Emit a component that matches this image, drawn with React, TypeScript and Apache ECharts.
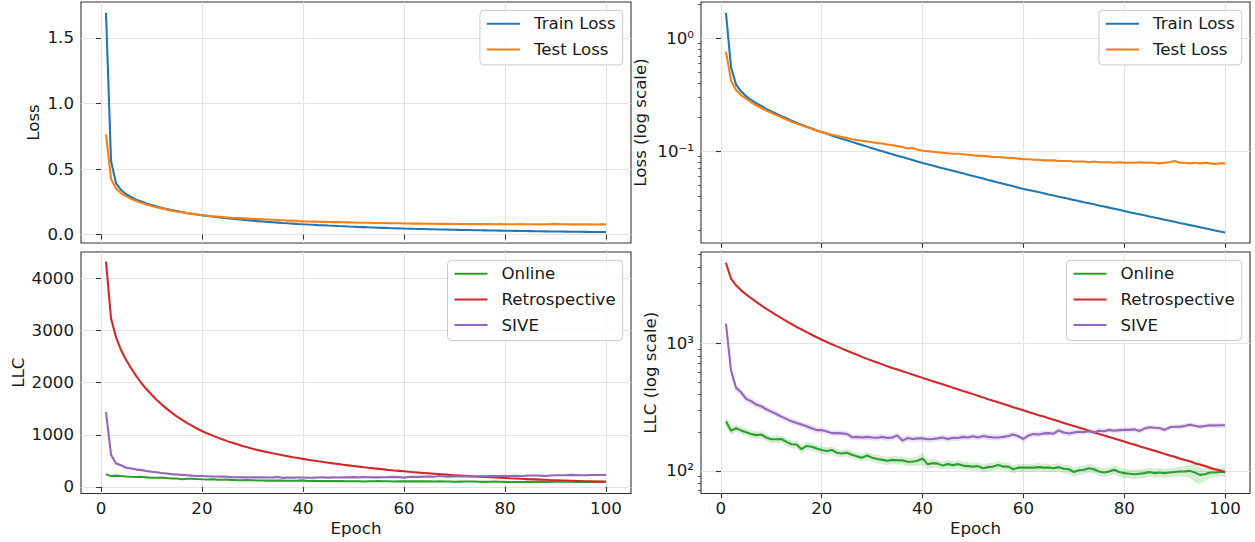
import React, { useEffect, useRef } from 'react';
import * as echarts from 'echarts';

// ---------- data ----------
const epochs: number[] = Array.from({ length: 100 }, (_, i) => i + 1);

const trainLoss = [
  1.69, 0.56, 0.39, 0.340, 0.308, 0.285, 0.267, 0.252, 0.238, 0.226,
  0.215, 0.205, 0.196, 0.187, 0.179, 0.172, 0.165, 0.159, 0.153, 0.148,
  0.1429, 0.1380, 0.1334, 0.1291, 0.1250, 0.1211, 0.1172, 0.1135, 0.1099, 0.1064,
  0.1030, 0.1000, 0.0970, 0.0942, 0.0914, 0.0887, 0.0861, 0.0836, 0.0811, 0.0787,
  0.0766, 0.0746, 0.0726, 0.0708, 0.0689, 0.0671, 0.0653, 0.0637, 0.0619, 0.0604,
  0.0587, 0.0573, 0.0557, 0.0543, 0.0528, 0.0515, 0.0501, 0.0489, 0.0475, 0.0463,
  0.0453, 0.0443, 0.0434, 0.0424, 0.0414, 0.0405, 0.0395, 0.0387, 0.0378, 0.0370,
  0.0361, 0.0353, 0.0346, 0.0338, 0.0330, 0.0323, 0.0316, 0.0309, 0.0302, 0.0295,
  0.0288, 0.0282, 0.0276, 0.0270, 0.0264, 0.0258, 0.0253, 0.0247, 0.0242, 0.0237,
  0.0231, 0.0226, 0.0221, 0.0217, 0.0212, 0.0207, 0.0203, 0.0198, 0.0194, 0.0190,
];

const testLoss = [
  0.765, 0.425, 0.350, 0.315, 0.293, 0.272, 0.256, 0.242, 0.230, 0.219,
  0.209, 0.200, 0.191, 0.183, 0.176, 0.170, 0.164, 0.158, 0.153, 0.148,
  0.144, 0.140, 0.137, 0.134, 0.131, 0.128, 0.126, 0.124, 0.122, 0.120,
  0.118, 0.117, 0.115, 0.113, 0.111, 0.109, 0.106, 0.107, 0.103, 0.101,
  0.100, 0.099, 0.098, 0.097, 0.096, 0.095, 0.095, 0.094, 0.093, 0.092,
  0.091, 0.091, 0.090, 0.089, 0.089, 0.088, 0.087, 0.087, 0.086, 0.085,
  0.085, 0.084, 0.084, 0.083, 0.083, 0.083, 0.082, 0.082, 0.082, 0.081,
  0.081, 0.081, 0.080, 0.081, 0.080, 0.080, 0.080, 0.079, 0.080, 0.079,
  0.079, 0.079, 0.080, 0.079, 0.079, 0.079, 0.078, 0.079, 0.080, 0.082,
  0.079, 0.079, 0.078, 0.079, 0.078, 0.079, 0.078, 0.077, 0.078, 0.078,
];

const online = [
  245, 207, 216, 208, 201, 195, 191, 193, 183, 177,
  177, 178, 169, 162, 161, 148, 157, 155, 150, 146,
  143, 146, 139, 137, 139, 134, 130, 127, 132, 127,
  124, 122, 120, 122, 121, 121, 118, 118, 120, 125,
  113, 115, 114, 110, 113, 111, 113, 110, 109, 108,
  109, 105, 107, 108, 111, 108, 108, 103, 106, 106,
  106, 106, 107, 106, 106, 105, 107, 104, 103, 98,
  101, 102, 105, 103, 99, 97, 99, 102, 98, 96,
  95, 94, 95, 96, 98, 96, 97, 96, 97, 98,
  99, 99, 100, 97, 93, 94, 97, 97, 98, 98,
];

const retrospective = [
  4325, 3236, 2871, 2624, 2438, 2275, 2128, 1995, 1879, 1774,
  1675, 1585, 1503, 1426, 1355, 1291, 1230, 1175, 1122, 1074,
  1030, 989, 951, 914, 879, 847, 817, 787, 759, 733,
  710, 687, 665, 644, 625, 607, 589, 571, 555, 538,
  523, 507, 492, 479, 465, 451, 438, 425, 413, 401,
  389, 378, 366, 356, 346, 336, 326, 316, 308, 299,
  290, 282, 274, 267, 259, 252, 245, 238, 231, 225,
  219, 213, 207, 201, 195, 190, 185, 180, 175, 170,
  165, 161, 156, 152, 148, 144, 140, 136, 132, 129,
  125, 122, 119, 115, 112, 109, 106, 103, 100.5, 98,
];

const sive = [
  1435, 616, 450, 415, 368, 353, 332, 322, 305, 292,
  280, 267, 256, 245, 238, 231, 224, 216, 209, 209,
  204, 198, 198, 197, 195, 184, 185, 183, 185, 183,
  182, 185, 181, 183, 190, 173, 181, 178, 180, 180,
  177, 178, 180, 183, 178, 182, 181, 185, 183, 187,
  183, 188, 185, 183, 183, 185, 188, 193, 187, 178,
  190, 195, 193, 197, 198, 196, 208, 200, 197, 200,
  203, 202, 205, 200, 207, 205, 210, 207, 209, 210,
  210, 212, 206, 215, 220, 218, 217, 210, 220, 222,
  222, 225, 230, 226, 222, 225, 228, 227, 228, 228,
];

// half-width of the shaded bands (std)
const onlineStd = [
  24, 15, 14, 13, 13, 13, 12, 12, 12, 12,
  12, 12, 12, 11, 11, 12, 11, 11, 10, 10,
  10, 10, 10, 9, 9, 9, 9, 9, 9, 9,
  9, 9, 9, 9, 9, 9, 9, 9, 10, 14,
  10, 9, 8, 8, 8, 8, 8, 8, 8, 8,
  8, 8, 8, 8, 8, 8, 8, 8, 8, 8,
  8, 8, 8, 8, 8, 8, 8, 8, 8, 8,
  8, 8, 8, 8, 8, 8, 8, 8, 8, 8,
  8, 8, 8, 8, 8, 8, 8, 8, 8, 8,
  9, 10, 12, 16, 14, 11, 9, 8, 8, 8,
];
const siveStd = [
  70, 40, 30, 26, 24, 22, 20, 18, 17, 16,
  15, 14, 14, 13, 13, 12, 12, 12, 11, 11,
  11, 11, 10, 10, 10, 10, 10, 10, 10, 10,
  10, 10, 10, 10, 10, 10, 10, 10, 10, 10,
  10, 10, 10, 10, 10, 10, 10, 10, 10, 10,
  10, 10, 10, 10, 10, 10, 10, 10, 10, 10,
  10, 10, 10, 10, 10, 10, 10, 10, 10, 10,
  10, 10, 10, 10, 10, 10, 10, 10, 10, 10,
  10, 10, 10, 10, 10, 10, 10, 10, 10, 10,
  10, 10, 10, 10, 10, 10, 10, 10, 10, 10,
];
const retroStd = [
  30, 20, 15, 12, 10, 9, 8, 8, 7, 7,
  6, 6, 6, 5, 5, 5, 5, 5, 5, 4,
  4, 4, 4, 4, 4, 4, 3, 3, 3, 3,
  3, 3, 3, 3, 3, 3, 3, 3, 3, 3,
  3, 3, 3, 3, 3, 3, 3, 3, 3, 3,
  3, 3, 3, 3, 3, 3, 3, 3, 3, 3,
  3, 3, 3, 3, 3, 3, 3, 3, 3, 3,
  3, 3, 3, 3, 3, 3, 3, 3, 3, 3,
  3, 3, 3, 3, 3, 3, 3, 3, 3, 3,
  3, 3, 3, 3, 3, 3, 3, 3, 3, 3,
];

// ticks
const xTicks = [0, 20, 40, 60, 80, 100];
const lossTicks = [0, 0.5, 1.0, 1.5];
const llcTicks = [0, 1000, 2000, 3000, 4000];
const lossLogTicks = [0.1, 1];
const lossLogMinor = [0.02, 0.03, 0.04, 0.05, 0.06, 0.07, 0.08, 0.09, 0.2, 0.3, 0.4, 0.5, 0.6, 0.7, 0.8, 0.9, 2];
const llcLogTicks = [100, 1000];
const llcLogMinor = [70, 80, 90, 200, 300, 400, 500, 600, 700, 800, 900, 2000, 3000, 4000, 5000];

// ---------- styles ----------
const FONT = 'DejaVu Sans';
const FS = 16.67;
const TXT = '#1a1a1a';
const FRAME = '#333333';
const GRIDC = '#e4e4e4';
const C_BLUE = '#1f77b4';
const C_ORANGE = '#ff7f0e';
const C_GREEN = '#2ca02c';
const C_RED = '#d62728';
const C_PURPLE = '#9467bd';

const pairs = (ys: number[]) => epochs.map((e, i) => [e, ys[i]]);

const SUP: Record<string, string> = { '0': '\u2070', '1': '\u00B9', '2': '\u00B2', '3': '\u00B3', '-': '\u207B' };
function supLabel(v: number): string {
  const e = Math.round(Math.log10(v));
  const s = String(e).split('').map((c) => SUP[c] || c).join('');
  return '10' + s;
}

function xAxis(gridIndex: number, bottom: boolean) {
  return {
    type: 'value',
    gridIndex,
    min: -3.95,
    max: 104.95,
    axisLine: { show: false },
    axisTick: { show: true, length: 4.9, customValues: xTicks, lineStyle: { color: FRAME, width: 1.1 } },
    axisLabel: {
      show: bottom, customValues: xTicks, margin: 6,
      color: TXT, fontSize: FS, fontFamily: FONT,
    },
    splitLine: { show: true, lineStyle: { color: GRIDC, width: 1.1 } },
    name: bottom ? 'Epoch' : '',
    nameLocation: 'middle',
    nameGap: 26,
    nameTextStyle: { color: TXT, fontSize: FS, fontFamily: FONT },
  };
}

function yLinear(gridIndex: number, min: number, max: number, ticks: number[], name: string, gap: number, fmt: (v: number) => string) {
  return {
    type: 'value', gridIndex, min, max, position: 'left',
    axisLine: { show: false },
    axisTick: { show: true, length: 4.9, customValues: ticks, lineStyle: { color: FRAME, width: 1.1 } },
    axisLabel: { customValues: ticks, margin: 7, color: TXT, fontSize: FS, fontFamily: FONT, formatter: fmt },
    splitLine: { show: true, lineStyle: { color: GRIDC, width: 1.1 } },
    name, nameLocation: 'middle', nameGap: gap,
    nameTextStyle: { color: TXT, fontSize: FS, fontFamily: FONT },
  };
}

function yLog(gridIndex: number, min: number, max: number, ticks: number[], name: string, gap: number) {
  return {
    type: 'log', logBase: 10, gridIndex, min, max, position: 'left',
    axisLine: { show: false },
    axisTick: { show: true, length: 4.9, customValues: ticks, lineStyle: { color: FRAME, width: 1.1 } },
    axisLabel: { customValues: ticks, margin: 7, color: TXT, fontSize: FS, fontFamily: FONT, formatter: supLabel },
    splitLine: { show: true, lineStyle: { color: GRIDC, width: 1.1 } },
    name, nameLocation: 'middle', nameGap: gap,
    nameTextStyle: { color: TXT, fontSize: FS, fontFamily: FONT },
  };
}

function yLogMinor(gridIndex: number, min: number, max: number, ticks: number[]) {
  return {
    type: 'log', logBase: 10, gridIndex, min, max, position: 'left', offset: 0,
    axisLine: { show: false },
    axisTick: { show: true, length: 2.8, customValues: ticks, lineStyle: { color: FRAME, width: 0.85 } },
    axisLabel: { show: false },
    splitLine: { show: false },
  };
}

function lineSeries(name: string, ys: number[], color: string, xi: number, yi: number) {
  return {
    type: 'line', name, data: pairs(ys), xAxisIndex: xi, yAxisIndex: yi,
    symbol: 'none', showSymbol: false, z: 5,
    lineStyle: { color, width: 2.08 }, itemStyle: { color },
  };
}

// shaded band (mean ± std) drawn as one polygon through the axes' own scales
function bandSeries(ys: number[], sd: number[], rgba: string, xi: number, yi: number) {
  return {
    type: 'custom', xAxisIndex: xi, yAxisIndex: yi, silent: true, z: 2, clip: true,
    data: [[epochs[0], ys[0]]],
    renderItem: (params: any, api: any) => {
      const upper = ys.map((v, i) => api.coord([epochs[i], v + sd[i]]));
      const lower = ys.map((v, i) => api.coord([epochs[i], v - sd[i]])).reverse();
      return {
        type: 'polygon',
        shape: { points: upper.concat(lower) },
        style: { fill: rgba, stroke: 'none' },
      };
    },
  };
}

function legend(names: string[], right: number, top: number) {
  return {
    show: true, data: names, orient: 'vertical', right, top,
    selectedMode: false,
    icon: 'rect', itemWidth: 33, itemHeight: 2, itemGap: 8.6,
    padding: [5, 7, 7, 7],
    backgroundColor: 'rgba(255,255,255,0.8)',
    borderColor: '#cccccc', borderWidth: 1, borderRadius: 4,
    textStyle: { color: TXT, fontSize: FS, fontFamily: FONT, lineHeight: 17, padding: [0, 0, 0, 9] },
  };
}

export default function App() {
  const ref = useRef<HTMLDivElement>(null);
  useEffect(() => {
    if (!ref.current) return;
    const chart = echarts.init(ref.current, undefined, { renderer: 'svg' });
    const gridBase = { show: true, borderColor: FRAME, borderWidth: 1.1, backgroundColor: 'transparent', containLabel: false };
    const option: any = {
      animation: false,
      backgroundColor: '#ffffff',
      grid: [
        { ...gridBase, left: 81, top: 2, width: 550, height: 241 },
        { ...gridBase, left: 701, top: 2, width: 549, height: 241 },
        { ...gridBase, left: 81, top: 252, width: 550, height: 241.5 },
        { ...gridBase, left: 701, top: 252, width: 549, height: 241.5 },
      ],
      xAxis: [xAxis(0, false), xAxis(1, false), xAxis(2, true), xAxis(3, true)],
      yAxis: [
        yLinear(0, -0.064, 1.774, lossTicks, 'Loss', 39, (v: number) => v.toFixed(1)),
        yLog(1, 0.01534, 2.11, lossLogTicks, 'Loss (log scale)', 51.6),
        yLogMinor(1, 0.01534, 2.11, lossLogMinor),
        yLinear(2, -127, 4511, llcTicks, 'LLC', 54, (v: number) => String(v)),
        yLog(3, 66.4, 5250, llcLogTicks, 'LLC (log scale)', 41.6),
        yLogMinor(3, 66.4, 5250, llcLogMinor),
      ],
      legend: [
        legend(['Train Loss', 'Test Loss'], 632.3, 10.3),
        legend(['Train Loss', 'Test Loss'], 13.3, 10.3),
        legend(['Online', 'Retrospective', 'SIVE'], 632.3, 260.3),
        legend(['Online', 'Retrospective', 'SIVE'], 13.3, 260.3),
      ],
      series: [
        lineSeries('Train Loss', trainLoss, C_BLUE, 0, 0),
        lineSeries('Test Loss', testLoss, C_ORANGE, 0, 0),
        lineSeries('Train Loss', trainLoss, C_BLUE, 1, 1),
        lineSeries('Test Loss', testLoss, C_ORANGE, 1, 1),

        bandSeries(online, onlineStd, 'rgba(44,160,44,0.2)', 2, 3),
        bandSeries(retrospective, retroStd, 'rgba(214,39,40,0.2)', 2, 3),
        bandSeries(sive, siveStd, 'rgba(148,103,189,0.2)', 2, 3),
        lineSeries('Online', online, C_GREEN, 2, 3),
        lineSeries('Retrospective', retrospective, C_RED, 2, 3),
        lineSeries('SIVE', sive, C_PURPLE, 2, 3),

        bandSeries(online, onlineStd, 'rgba(44,160,44,0.2)', 3, 4),
        bandSeries(retrospective, retroStd, 'rgba(214,39,40,0.2)', 3, 4),
        bandSeries(sive, siveStd, 'rgba(148,103,189,0.2)', 3, 4),
        lineSeries('Online', online, C_GREEN, 3, 4),
        lineSeries('Retrospective', retrospective, C_RED, 3, 4),
        lineSeries('SIVE', sive, C_PURPLE, 3, 4),
      ],
    };
    chart.setOption(option);
    return () => chart.dispose();
  }, []);
  return (
    <div
      ref={ref}
      style={{ position: 'absolute', left: 0, top: 0, width: 1255, height: 542, background: '#fff' }}
    />
  );
}
